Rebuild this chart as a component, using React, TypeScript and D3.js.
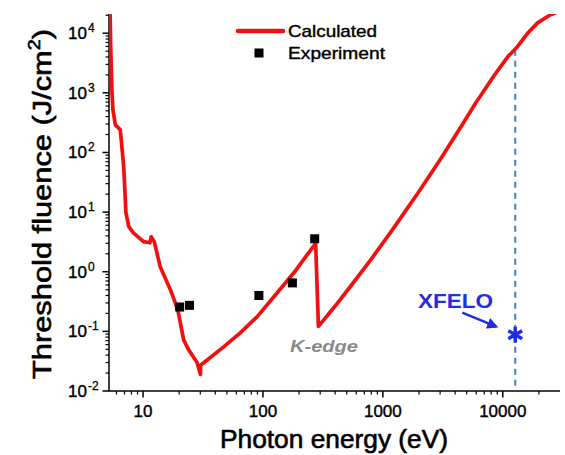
import React, { useEffect, useRef } from 'react';
import * as d3 from 'd3';

// calculated threshold curve (eV, J/cm2)
const calcEnergy = [5.3, 5.38, 5.51, 5.61, 5.88, 6.46, 6.9, 7.2, 7.6, 8.3, 10.1, 11.4, 11.7, 12.4, 13.9, 16.9, 19.5, 21.8, 24, 28.2, 30.1, 30.2, 47, 65, 89.6, 131, 181, 275, 290, 400, 550, 800, 1200, 2000, 3000, 4480, 6000, 8500, 11000, 13000, 16100, 19500, 25000, 30000];
const calcFluence = [25000, 5200, 1000, 516, 290, 240, 57, 9.8, 5.7, 4.5, 3.2, 3.06, 3.86, 3.2, 1.21, 0.5, 0.23, 0.072, 0.049, 0.03, 0.019, 0.027, 0.055, 0.095, 0.177, 0.44, 0.96, 3.0, 0.121, 0.266, 0.605, 1.63, 5.03, 22.2, 75.7, 269, 693, 1970, 4020, 5690, 9950, 14900, 20400, 23500];

// experiment points
const expEnergy = [20.2, 24.4, 92.5, 176, 270];
const expFluence = [0.256, 0.273, 0.4, 0.65, 3.57];

// XFELO marker
const xfeloEnergy = 12700;
const xfeloFluence = 0.088;

const xTickValues = [10, 100, 1000, 10000];
const xTickLabels = ['10', '100', '1000', '10000'];
const yTickValues = [1e-2, 1e-1, 1, 10, 100, 1000, 10000];
const yTickExp = ['-2', '-1', '0', '1', '2', '3', '4'];

const FONT = '"Liberation Sans", Arial, sans-serif';

export default function App() {
  const ref = useRef<SVGSVGElement>(null);

  useEffect(() => {
    const width = 565;
    const height = 455;
    const margin = { top: 14, right: 5, bottom: 64, left: 109 };

    const x = d3.scaleLog()
      .domain([5.2, 30000])
      .range([margin.left, width - margin.right]);
    const y = d3.scaleLog()
      .domain([0.01, 21000])
      .range([height - margin.bottom, margin.top]);

    const svg = d3.select(ref.current);
    svg.selectAll('*').remove();

    svg.append('clipPath').attr('id', 'plotclip')
      .append('rect')
      .attr('x', margin.left)
      .attr('y', margin.top)
      .attr('width', width - margin.left - margin.right)
      .attr('height', height - margin.top - margin.bottom);

    const y0 = height - margin.bottom;

    // minor ticks 2..9 per decade
    const minors = (lo: number, hi: number) => {
      const out: number[] = [];
      for (let p = Math.floor(Math.log10(lo)); p <= Math.ceil(Math.log10(hi)); p++) {
        for (let m = 2; m <= 9; m++) {
          const v = m * Math.pow(10, p);
          if (v > lo && v < hi) out.push(v);
        }
      }
      return out;
    };

    // x axis
    const gx = svg.append('g').attr('stroke', '#000');
    gx.append('line')
      .attr('x1', margin.left).attr('x2', width - margin.right)
      .attr('y1', y0).attr('y2', y0)
      .attr('stroke-width', 1.5);
    gx.selectAll('line.minor')
      .data(minors(5.2, 30000))
      .join('line')
      .attr('class', 'minor')
      .attr('x1', d => x(d)).attr('x2', d => x(d))
      .attr('y1', y0).attr('y2', y0 + 3.5)
      .attr('stroke-width', 1.2);
    gx.selectAll('line.major')
      .data(xTickValues)
      .join('line')
      .attr('class', 'major')
      .attr('x1', d => x(d)).attr('x2', d => x(d))
      .attr('y1', y0).attr('y2', y0 + 6.5)
      .attr('stroke-width', 1.5);
    svg.append('g')
      .attr('stroke', '#000').attr('stroke-width', 0.4)
      .selectAll('text')
      .data(xTickValues)
      .join('text')
      .attr('x', d => x(d))
      .attr('y', 417)
      .attr('text-anchor', 'middle')
      .attr('font-family', FONT)
      .attr('font-size', 17)
      .text((d, i) => xTickLabels[i]);

    // y axis
    const x0 = margin.left;
    const gy = svg.append('g').attr('stroke', '#000');
    gy.append('line')
      .attr('x1', x0).attr('x2', x0)
      .attr('y1', margin.top).attr('y2', y0)
      .attr('stroke-width', 1.5);
    gy.selectAll('line.minor')
      .data(minors(0.01, 21000))
      .join('line')
      .attr('class', 'minor')
      .attr('x1', x0).attr('x2', x0 - 3.5)
      .attr('y1', d => y(d)).attr('y2', d => y(d))
      .attr('stroke-width', 1.2);
    gy.selectAll('line.major')
      .data(yTickValues)
      .join('line')
      .attr('class', 'major')
      .attr('x1', x0).attr('x2', x0 - 6.5)
      .attr('y1', d => y(d)).attr('y2', d => y(d))
      .attr('stroke-width', 1.5);

    const ylab = svg.append('g')
      .attr('font-family', FONT)
      .attr('stroke', '#000').attr('stroke-width', 0.4)
      .selectAll('g')
      .data(yTickValues)
      .join('g');
    ylab.append('text')
      .attr('x', 87)
      .attr('y', d => y(d) + 6)
      .attr('text-anchor', 'end')
      .attr('font-size', 17)
      .text('10');
    ylab.append('text')
      .attr('x', 88)
      .attr('y', d => y(d) - 1)
      .attr('font-size', 12)
      .attr('stroke-width', 0.3)
      .text((d, i) => yTickExp[i]);

    // axis titles
    svg.append('text')
      .attr('transform', `translate(51,204) rotate(-90)`)
      .attr('text-anchor', 'middle')
      .attr('font-family', FONT)
      .attr('font-size', 25)
      .attr('stroke', '#000').attr('stroke-width', 0.6)
      .attr('textLength', 350)
      .attr('lengthAdjust', 'spacingAndGlyphs')
      .call(t => {
        t.append('tspan').text('Threshold fluence (J/cm');
        t.append('tspan').attr('font-size', 16).attr('dy', -11).text('2');
        t.append('tspan').attr('dy', 11).text(')');
      });
    svg.append('text')
      .attr('x', 334)
      .attr('y', 448)
      .attr('text-anchor', 'middle')
      .attr('font-family', FONT)
      .attr('font-size', 25)
      .attr('stroke', '#000').attr('stroke-width', 0.6)
      .attr('textLength', 228)
      .attr('lengthAdjust', 'spacingAndGlyphs')
      .text('Photon energy (eV)');

    // dashed line at XFELO energy
    const calc = calcEnergy.map((e, i) => ({ e, f: calcFluence[i] }));
    svg.append('line')
      .attr('x1', x(xfeloEnergy)).attr('x2', x(xfeloEnergy))
      .attr('y1', y(5300)).attr('y2', y0)
      .attr('stroke', '#3b82c4')
      .attr('stroke-width', 2)
      .attr('stroke-dasharray', '6,5');

    const line = d3.line<{ e: number; f: number }>()
      .x(d => x(d.e))
      .y(d => y(d.f));

    svg.append('path')
      .datum(calc)
      .attr('clip-path', 'url(#plotclip)')
      .attr('fill', 'none')
      .attr('stroke', '#f01010')
      .attr('stroke-width', 3.7)
      .attr('stroke-linejoin', 'round')
      .attr('d', line);

    svg.append('g')
      .selectAll('rect')
      .data(expEnergy.map((e, i) => ({ e, f: expFluence[i] })))
      .join('rect')
      .attr('x', d => x(d.e) - 4.5)
      .attr('y', d => y(d.f) - 4.5)
      .attr('width', 9)
      .attr('height', 9)
      .attr('fill', '#000');

    // K-edge label
    svg.append('text')
      .attr('x', 290)
      .attr('y', 352)
      .attr('font-family', FONT)
      .attr('font-size', 17)
      .attr('font-weight', 'bold')
      .attr('font-style', 'italic')
      .attr('fill', '#8a8a8a')
      .attr('textLength', 68)
      .attr('lengthAdjust', 'spacingAndGlyphs')
      .text('K-edge');

    // XFELO star, arrow and label
    const sx = x(xfeloEnergy);
    const sy = y(xfeloFluence);
    svg.append('path')
      .attr('transform', `translate(${sx},${sy})`)
      .attr('d', d3.symbol(d3.symbolAsterisk, 180)())
      .attr('stroke', '#1f2ee6')
      .attr('stroke-width', 3.5)
      .attr('fill', 'none');

    svg.append('defs').append('marker')
      .attr('id', 'arrowhead')
      .attr('viewBox', '0 0 10 10')
      .attr('refX', 8).attr('refY', 5)
      .attr('markerWidth', 4.5).attr('markerHeight', 4.5)
      .attr('orient', 'auto')
      .append('path')
      .attr('d', 'M0,0L10,5L0,10z')
      .attr('fill', '#1f2ee6');
    svg.append('line')
      .attr('x1', sx - 53).attr('y1', sy - 22)
      .attr('x2', sx - 19).attr('y2', sy - 8)
      .attr('stroke', '#1f2ee6')
      .attr('stroke-width', 2.5)
      .attr('marker-end', 'url(#arrowhead)');
    svg.append('text')
      .attr('x', 418)
      .attr('y', 308)
      .attr('font-family', FONT)
      .attr('font-size', 21)
      .attr('font-weight', 'bold')
      .attr('fill', '#1f2ee6')
      .attr('textLength', 75)
      .attr('lengthAdjust', 'spacingAndGlyphs')
      .text('XFELO');

    // legend
    const lg = svg.append('g')
      .attr('font-family', FONT).attr('font-size', 17)
      .attr('stroke', '#000').attr('stroke-width', 0.4);
    lg.append('line')
      .attr('x1', 238).attr('x2', 283)
      .attr('y1', 31).attr('y2', 31)
      .attr('stroke', '#f01010')
      .attr('stroke-width', 4.5)
      .attr('stroke-linecap', 'round');
    lg.append('text')
      .attr('x', 288).attr('y', 37)
      .attr('textLength', 89)
      .attr('lengthAdjust', 'spacingAndGlyphs')
      .text('Calculated');
    lg.append('rect')
      .attr('x', 254.5).attr('y', 48.5)
      .attr('width', 9).attr('height', 9)
      .attr('stroke', 'none')
      .attr('fill', '#000');
    lg.append('text')
      .attr('x', 288).attr('y', 59)
      .attr('textLength', 97)
      .attr('lengthAdjust', 'spacingAndGlyphs')
      .text('Experiment');
  }, []);

  return (
    <svg
      ref={ref}
      width={565}
      height={455}
      style={{ position: 'absolute', left: 0, top: 0, background: '#fff' }}
    />
  );
}
